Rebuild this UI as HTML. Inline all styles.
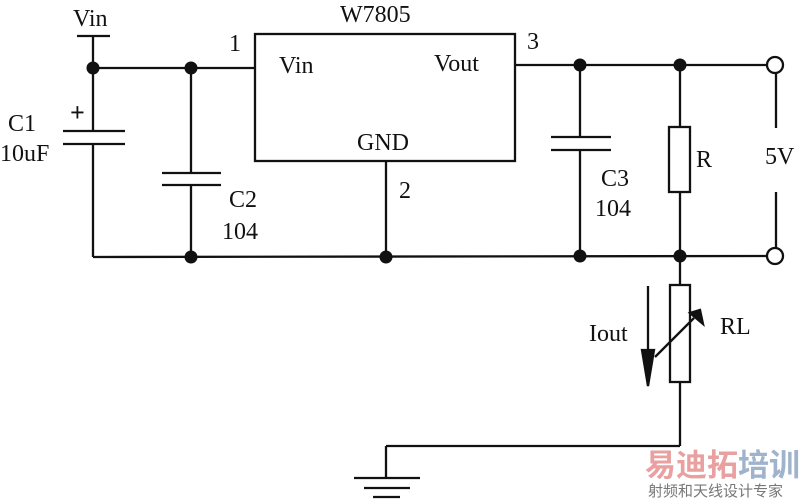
<!DOCTYPE html><html><head><style>body{margin:0;background:#fff}svg{display:block}text{font-family:"Liberation Serif",serif;fill:#111}</style></head><body>
<svg width="802" height="499" viewBox="0 0 802 499" stroke="#111" stroke-width="2.3" fill="none">
<line x1="77" y1="36" x2="110" y2="36"/><line x1="93" y1="36" x2="93" y2="131"/>
<line x1="93" y1="68" x2="255" y2="68"/>
<line x1="63" y1="131" x2="125" y2="131"/><line x1="63" y1="144" x2="125" y2="144"/>
<line x1="93" y1="144" x2="93" y2="257"/>
<line x1="191" y1="68" x2="191" y2="173"/><line x1="162" y1="173" x2="221" y2="173"/><line x1="162" y1="185" x2="221" y2="185"/><line x1="191" y1="185" x2="191" y2="257"/>
<rect x="255" y="34" width="260" height="127"/>
<line x1="386" y1="161" x2="386" y2="257"/>
<line x1="93" y1="257" x2="767" y2="256"/>
<line x1="515" y1="65" x2="767" y2="65"/>
<line x1="580" y1="65" x2="580" y2="137"/><line x1="551" y1="137" x2="611" y2="137"/><line x1="551" y1="150" x2="611" y2="150"/><line x1="580" y1="150" x2="580" y2="256"/>
<line x1="680" y1="65" x2="680" y2="127"/><rect x="669" y="127" width="21" height="65"/><line x1="680" y1="192" x2="680" y2="285"/>
<circle cx="775" cy="65" r="8"/><circle cx="775" cy="256" r="8"/>
<line x1="776" y1="73" x2="776" y2="128"/><line x1="776" y1="192" x2="776" y2="248"/>
<rect x="670" y="285" width="20" height="97"/>
<line x1="680" y1="382" x2="680" y2="446"/><line x1="680" y1="446" x2="386" y2="446"/><line x1="386" y1="446" x2="386" y2="478"/>
<line x1="354" y1="478" x2="420" y2="478"/><line x1="364" y1="488" x2="410" y2="488"/><line x1="373" y1="497" x2="400" y2="497"/>
<line x1="655" y1="357" x2="694" y2="318"/><path d="M690 313 L700 310 L703 324 Z" fill="#111"/>
<line x1="648" y1="286" x2="648" y2="360"/><path d="M642 350 L654 350 L648 386 Z" fill="#111"/>
<g fill="#111" stroke="none">
<circle cx="93" cy="68" r="6.5"/><circle cx="191" cy="68" r="6.5"/><circle cx="191" cy="257" r="6.5"/><circle cx="386" cy="257" r="6.5"/><circle cx="580" cy="65" r="6.5"/><circle cx="680" cy="65" r="6.5"/><circle cx="580" cy="256" r="6.5"/><circle cx="680" cy="256" r="6.5"/>
</g>
<g stroke="none" font-size="24">
<text x="73" y="26">Vin</text><text x="340" y="22">W7805</text>
<text x="229" y="51">1</text><text x="527" y="49">3</text>
<text x="279" y="73">Vin</text><text x="434" y="71">Vout</text><text x="357" y="150">GND</text>
<text x="399" y="198">2</text>
<text x="70" y="121" font-size="26" font-weight="bold">+</text>
<text x="8" y="131">C1</text><text x="0" y="161">10uF</text>
<text x="229" y="207">C2</text><text x="222" y="239">104</text>
<text x="601" y="186">C3</text><text x="595" y="216">104</text>
<text x="696" y="167">R</text><text x="765" y="164">5V</text>
<text x="720" y="334">RL</text><text x="589" y="341">Iout</text>
</g>
<g stroke="none">
<text x="645" y="476" font-size="31" font-weight="bold" style="fill:#e8a0a0;font-family:'Noto Sans CJK SC',sans-serif">易迪拓</text>
<text x="738" y="476" font-size="31" font-weight="bold" style="fill:#9fb3cc;font-family:'Noto Sans CJK SC',sans-serif">培训</text>
<text x="648" y="496" font-size="15" style="fill:#777;font-family:'Noto Sans CJK SC',sans-serif">射频和天线设计专家</text>
</g>
</svg></body></html>
